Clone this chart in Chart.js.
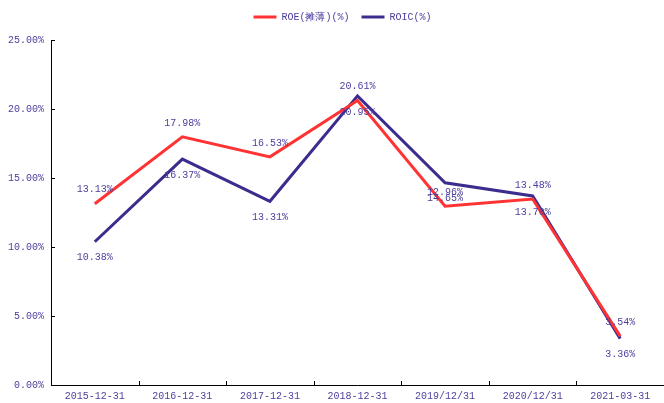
<!DOCTYPE html>
<html>
<head>
<meta charset="utf-8">
<script src="https://cdn.jsdelivr.net/npm/chart.js@4.4.0/dist/chart.umd.min.js"></script>
<style>
  html, body { margin: 0; padding: 0; background: #fff; }
  #wrap { width: 664px; height: 403px; }
</style>
</head>
<body>
<div id="wrap"><canvas id="metricChart" width="664" height="403"></canvas></div>
<script>
// data
const categories = ['2015-12-31', '2016-12-31', '2017-12-31', '2018-12-31', '2019/12/31', '2020/12/31', '2021-03-31'];
const roeValues = [13.13, 17.98, 16.53, 20.61, 12.96, 13.48, 3.54];
const roicValues = [10.38, 16.37, 13.31, 20.95, 14.65, 13.70, 3.36];
const yTicks = [0, 5, 10, 15, 20, 25];

const textColor = '#4B3F9E';
const monoFamily = '"Liberation Mono", "DejaVu Sans Mono", monospace';

// value labels above (ROE) and below (ROIC) each point
const pointLabels = {
    id: 'pointLabels',
    afterDatasetsDraw(chart) {
        const ctx = chart.ctx;
        ctx.save();
        ctx.font = '10px ' + monoFamily;
        ctx.fillStyle = textColor;
        ctx.textAlign = 'center';
        ctx.textBaseline = 'middle';
        chart.data.datasets.forEach((ds, i) => {
            const meta = chart.getDatasetMeta(i);
            const dy = i === 0 ? -14 : 16;
            meta.data.forEach((pt, j) => {
                ctx.fillText(ds.data[j].toFixed(2) + '%', pt.x, pt.y + dy);
            });
        });
        ctx.restore();
    }
};

// axis lines with small inner tick marks
const innerTicks = {
    id: 'innerTicks',
    afterDraw(chart) {
        const ctx = chart.ctx;
        const area = chart.chartArea;
        const xs = chart.scales.x;
        const ys = chart.scales.y;
        ctx.save();
        ctx.strokeStyle = '#000';
        ctx.lineWidth = 1;
        ctx.beginPath();
        ctx.moveTo(area.left + 0.5, area.top);
        ctx.lineTo(area.left + 0.5, area.bottom + 0.5);
        ctx.lineTo(area.right, area.bottom + 0.5);
        yTicks.forEach(v => {
            const y = Math.round(ys.getPixelForValue(v)) + 0.5;
            ctx.moveTo(area.left, y);
            ctx.lineTo(area.left + 4, y);
        });
        for (let i = 1; i < categories.length; i++) {
            const x = Math.round((xs.getPixelForValue(i - 1) + xs.getPixelForValue(i)) / 2) + 0.5;
            ctx.moveTo(x, area.bottom);
            ctx.lineTo(x, area.bottom - 4);
        }
        ctx.stroke();
        ctx.restore();
    }
};

// extra gap under the legend, and nudge it right a little
const legendGap = {
    id: 'legendGap',
    beforeInit(chart) {
        const fit = chart.legend.fit;
        chart.legend.fit = function () {
            fit.call(this);
            this.height += 8;
        };
    },
    afterLayout(chart) {
        chart.legend.left += 10;
        chart.legend.right += 10;
    }
};

const ctx = document.getElementById('metricChart').getContext('2d');
new Chart(ctx, {
    type: 'line',
    data: {
        labels: categories,
        datasets: [{
            label: 'ROE(摊薄)(%)',
            data: roeValues,
            borderColor: '#FF3333',
            backgroundColor: '#FF3333',
            borderWidth: 3,
            pointRadius: 0,
            tension: 0
        }, {
            label: 'ROIC(%)',
            data: roicValues,
            borderColor: '#3B2C8E',
            backgroundColor: '#3B2C8E',
            borderWidth: 3,
            pointRadius: 0,
            tension: 0
        }]
    },
    options: {
        responsive: false,
        animation: false,
        layout: { padding: { left: 1, right: 0, top: 0, bottom: -4 } },
        plugins: {
            legend: {
                position: 'top',
                labels: {
                    color: textColor,
                    font: { family: monoFamily, size: 10 },
                    boxWidth: 23,
                    boxHeight: 3,
                    padding: 12,
                    generateLabels(chart) {
                        return chart.data.datasets.map((ds, i) => ({
                            text: ds.label,
                            fillStyle: ds.borderColor,
                            strokeStyle: ds.borderColor,
                            lineWidth: 0,
                            fontColor: textColor,
                            datasetIndex: i
                        }));
                    }
                }
            },
            tooltip: { enabled: false }
        },
        scales: {
            x: {
                offset: true,
                grid: { display: false, drawTicks: false },
                border: { display: false },
                ticks: { color: textColor, font: { family: monoFamily, size: 10 }, padding: 5, maxRotation: 0, autoSkip: false }
            },
            y: {
                min: 0,
                max: 25,
                grid: { display: false, drawTicks: false },
                border: { display: false },
                afterBuildTicks(scale) {
                    scale.ticks = yTicks.map(v => ({ value: v }));
                },
                ticks: {
                    color: textColor,
                    font: { family: monoFamily, size: 10 },
                    padding: 7,
                    callback: v => v.toFixed(2) + '%'
                }
            }
        }
    },
    plugins: [pointLabels, innerTicks, legendGap]
});
</script>
</body>
</html>
